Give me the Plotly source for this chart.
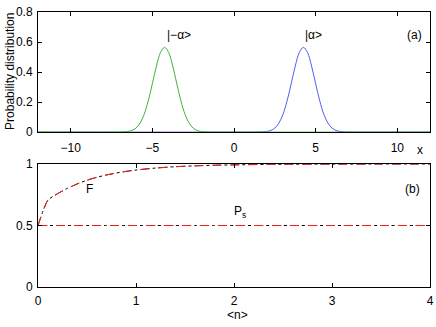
import plotly.graph_objects as go

# ---- panel (a): probability distributions ----
x_minus = [-12, -7.0, -6.75, -6.5, -6.25, -6.0, -5.75, -5.5, -5.25, -5.0, -4.75, -4.5, -4.25,
           -4.0, -3.75, -3.5, -3.25, -3.0, -2.75, -2.5, -2.25, -2.0, -1.75, -1.5, 12]
x_plus = [-12, 1.5, 1.75, 2.0, 2.25, 2.5, 2.75, 3.0, 3.25, 3.5, 3.75, 4.0, 4.25,
          4.5, 4.75, 5.0, 5.25, 5.5, 5.75, 6.0, 6.25, 6.5, 6.75, 7.0, 12]
p_minus = [0, 0.0003, 0.0011, 0.0036, 0.0103, 0.0264, 0.0595, 0.118, 0.2075, 0.321, 0.439, 0.530, 0.564,
           0.530, 0.439, 0.321, 0.2075, 0.118, 0.0595, 0.0264, 0.0103, 0.0036, 0.0011, 0.0003, 0]
p_plus = [0, 0.0003, 0.0011, 0.0036, 0.0103, 0.0264, 0.0595, 0.118, 0.2075, 0.321, 0.439, 0.530, 0.564,
          0.530, 0.439, 0.321, 0.2075, 0.118, 0.0595, 0.0264, 0.0103, 0.0036, 0.0011, 0.0003, 0]

# ---- panel (b): F and Ps vs <n> ----
n_vals = [0, 0.1, 0.2, 0.3, 0.4, 0.5, 0.6, 0.7, 0.8, 0.9, 1.0, 1.2, 1.4, 1.6, 1.8, 2.0, 2.5, 3.0, 3.5, 4.0]
F_vals = [0.5, 0.705, 0.759, 0.802, 0.838, 0.868, 0.892, 0.911, 0.927, 0.940, 0.951, 0.967, 0.978,
          0.985, 0.990, 0.993, 0.998, 0.999, 1.0, 1.0]
Ps_vals = [0.5] * len(n_vals)

FONT = "Liberation Sans Narrow, Arial Narrow, Liberation Sans, Arial"

fig = go.Figure()

fig.add_trace(go.Scatter(x=x_plus, y=p_plus, mode="lines", line=dict(color="#4d5ff0", width=1, shape="spline"),
                         xaxis="x", yaxis="y", showlegend=False, hoverinfo="skip"))
fig.add_trace(go.Scatter(x=x_minus, y=p_minus, mode="lines", line=dict(color="#3fb43a", width=1, shape="spline"),
                         xaxis="x", yaxis="y", showlegend=False, hoverinfo="skip"))

for yv in (F_vals, Ps_vals):
    fig.add_trace(go.Scatter(x=n_vals, y=yv, mode="lines", line=dict(color="black", width=1, dash="dashdot", shape="spline", smoothing=0.6),
                             xaxis="x2", yaxis="y2", showlegend=False, hoverinfo="skip"))
    fig.add_trace(go.Scatter(x=n_vals, y=yv, mode="lines", line=dict(color="#ff2020", width=1, dash="dash", shape="spline", smoothing=0.6),
                             xaxis="x2", yaxis="y2", showlegend=False, hoverinfo="skip"))

axis_common = dict(showgrid=False, zeroline=False, showline=True, linecolor="black", linewidth=1,
                   mirror="ticks", ticks="inside", ticklen=4, tickcolor="black", automargin=False,
                   tickfont=dict(family=FONT, size=12, color="black"))

fig.update_layout(
    width=436, height=327,
    margin=dict(l=38, r=6, t=12, b=40),
    paper_bgcolor="white", plot_bgcolor="white",
    xaxis=dict(domain=[0, 1], anchor="y", range=[-12, 12], tickvals=[-10, -5, 0, 5, 10],
               ticktext=["−10", "−5", "0", "5", "10"], ticklabelstandoff=5, **axis_common),
    yaxis=dict(domain=[0.5636, 1], anchor="x", range=[0, 0.8], tickvals=[0, 0.2, 0.4, 0.6, 0.8],
               ticktext=["0", "0.2", "0.4", "0.6", "0.8"], ticklabelstandoff=2, **axis_common),
    xaxis2=dict(domain=[0, 1], anchor="y2", range=[0, 4], tickvals=[0, 1, 2, 3, 4],
                ticklabelstandoff=3, **axis_common),
    yaxis2=dict(domain=[0, 0.4473], anchor="x2", range=[0, 1], tickvals=[0, 0.5, 1],
                ticktext=["0", "0.5", "1"], ticklabelstandoff=2, **axis_common),
)

txt = dict(family=FONT, size=12, color="black")
ann = [
    dict(x=-4.25, y=0.647, xref="x", yref="y", text="|−α>", xanchor="left", yanchor="middle", showarrow=False, font=txt),
    dict(x=4.2, y=0.647, xref="x", yref="y", text="|α>", xanchor="left", yanchor="middle", showarrow=False, font=txt),
    dict(x=11.08, y=0.647, xref="x", yref="y", text="(a)", xanchor="center", yanchor="middle", showarrow=False, font=txt),
    dict(x=0.53, y=0.80, xref="x2", yref="y2", text="F", xanchor="center", yanchor="middle", showarrow=False, font=txt),
    dict(x=2.06, y=0.61, xref="x2", yref="y2", text="P<sub>s</sub>", xanchor="center", yanchor="middle", showarrow=False, font=txt),
    dict(x=3.82, y=0.80, xref="x2", yref="y2", text="(b)", xanchor="center", yanchor="middle", showarrow=False, font=txt),
    dict(x=0.9745, y=0.498, xref="paper", yref="paper", text="x", xanchor="center", yanchor="middle", showarrow=False, font=txt),
    dict(x=0.508, y=-0.102, xref="paper", yref="paper", text="<n>", xanchor="center", yanchor="middle", showarrow=False, font=txt),
    dict(x=-0.0714, y=0.782, xref="paper", yref="paper", text="Probability distribution", textangle=-90,
         xanchor="center", yanchor="middle", showarrow=False, font=dict(family=FONT, size=12, color="black")),
]
fig.update_layout(annotations=ann)

fig.write_html("out.html", config={"displayModeBar": False},
               post_script="document.body.style.margin='0';document.body.style.overflow='hidden';")
